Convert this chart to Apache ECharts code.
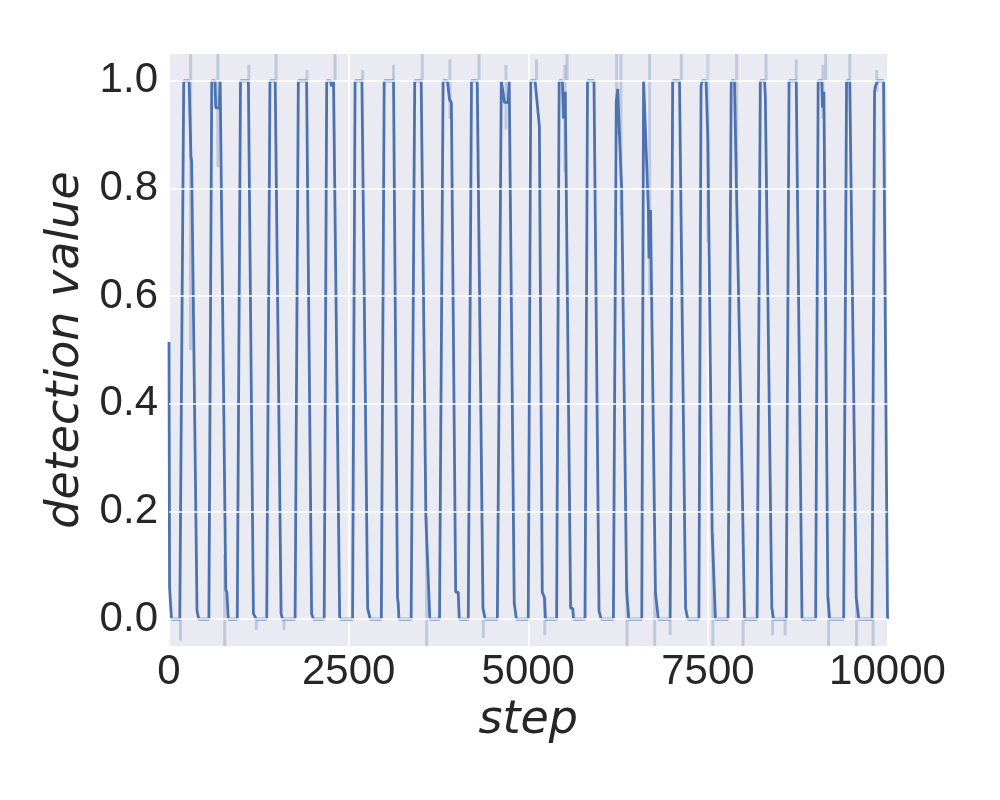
<!DOCTYPE html>
<html>
<head>
<meta charset="utf-8">
<script src="https://cdn.jsdelivr.net/npm/echarts@6/dist/echarts.min.js"></script>
<style>html,body{margin:0;padding:0;background:#fff}#c{width:1000px;height:800px}</style>
</head>
<body>
<div id="c"></div>
<script>
// x ticks and y ticks
const xTicks = [0, 2500, 5000, 7500, 10000];
const yTicks = [0, 0.2, 0.4, 0.6, 0.8, 1.0];

// mean detection value trace: steps and values
const steps = [
  0, 8, 20, 35,
  150, 205, 280, 305, 315, 390, 405, 415,
  555, 595, 640, 650, 700, 712, 722, 790, 805, 825,
  950, 995, 1105, 1175, 1200, 1215,
  1360, 1405, 1478, 1560, 1570, 1580,
  1755, 1800, 1915, 1985, 2000, 2010,
  2160, 2195, 2250, 2260, 2280, 2290, 2375, 2385,
  2555, 2590, 2685, 2765, 2790, 2800,
  2955, 2995, 3125, 3180, 3190, 3200,
  3370, 3420, 3510, 3575, 3630,
  3765, 3815, 3875, 3905, 3930, 3990, 4025, 4040,
  4165, 4210, 4290, 4370, 4390, 4400,
  4570, 4625, 4650, 4670, 4720, 4735, 4745, 4805, 4825, 4835,
  5000, 5035, 5095, 5155, 5195, 5225, 5240,
  5395, 5430, 5475, 5490, 5510, 5515, 5590, 5620, 5630,
  5790, 5825, 5915, 5985, 6005, 6015,
  6185, 6225, 6245, 6292, 6300, 6370, 6400,
  6580, 6605, 6620, 6672, 6680, 6688, 6695, 6702, 6710, 6770, 6810,
  6975, 7010, 7105, 7190, 7210, 7220,
  7375, 7405, 7420, 7475, 7500, 7560, 7605,
  7780, 7825, 7870, 7895, 7965, 8010,
  8185, 8230, 8290, 8300, 8390, 8405, 8415,
  8590, 8630, 8730, 8810,
  9000, 9035, 9085, 9095, 9110, 9115, 9170, 9185, 9195,
  9390, 9430, 9475, 9565, 9590, 9600,
  9785, 9820, 9830, 9865, 9945, 10000
];
const values = [
  0.515, 0.06, 0.03, 0,
  0, 1, 1, 0.86, 0.85, 0.015, 0.015, 0,
  0, 1, 1, 0.95, 0.95, 1, 1, 0.055, 0.05, 0,
  0, 1, 1, 0.01, 0.01, 0,
  0, 1, 1, 0.01, 0.01, 0,
  0, 1, 1, 0.01, 0.01, 0,
  0, 1, 1, 0.99, 0.99, 1, 0.005, 0,
  0, 1, 1, 0.02, 0.02, 0,
  0, 1, 1, 0.04, 0.03, 0,
  0, 1, 1, 0.19, 0,
  0, 1, 1, 0.965, 0.96, 0.05, 0.05, 0,
  0, 1, 1, 0.02, 0.02, 0,
  0, 1, 1, 0.96, 0.96, 1, 1, 0.03, 0.03, 0,
  0, 1, 1, 0.915, 0.05, 0.04, 0,
  0, 1, 1, 0.93, 0.93, 0.98, 0.02, 0.02, 0,
  0, 1, 1, 0.015, 0.015, 0,
  0, 0.96, 0.985, 0.825, 0.8, 0.05, 0,
  0, 1, 1, 0.76, 0.67, 0.76, 0.67, 0.76, 0.67, 0.05, 0,
  0, 1, 1, 0.02, 0.02, 0,
  0, 0.99, 1, 1, 0.89, 0.16, 0,
  0, 1, 1, 0.82, 0.35, 0,
  0, 1, 1, 0.97, 0.02, 0.02, 0,
  0, 1, 1, 0,
  0, 1, 1, 0.95, 0.95, 0.98, 0.04, 0.04, 0,
  0, 1, 1, 0.04, 0.04, 0,
  0, 0.98, 0.99, 1, 1, 0
];

// confidence-band spikes: step, lower, upper
const bandSteps = [160, 300, 680, 775, 1110, 1215, 1490, 1600, 1920, 2310, 2695, 3125,
  3525, 3585, 3910, 4315, 4375, 4690, 5115, 5230, 5510, 5540, 6230, 6290, 6375,
  6690, 6760, 6975, 7130, 7500, 7570, 7900, 7990, 8310, 8400, 8575, 8730,
  9100, 9140, 9180, 9475, 9570, 9800, 9850];
const bandLow = [-0.04, 0.5, 0.84, -0.05, 1.0, -0.02, 1.0, -0.02, 1.0, 1.0, 1.0, 1.0,
  1.0, -0.05, 0.93, 1.0, -0.035, 0.91, 1.0, -0.03, 0.83, 1.0, 0.9, 0.75, -0.05,
  0.6, -0.05, -0.03, 1.0, 0.7, -0.05, 0.82, -0.05, 1.0, -0.03, -0.03, 1.0,
  0.93, 1.0, -0.05, 1.0, -0.05, -0.05, 0.98];
const bandHigh = [0, 1.05, 1.05, 0.12, 1.03, 0, 1.05, 0, 1.02, 1.05, 1.02, 1.03,
  1.05, 0.19, 1.04, 1.05, 0, 1.03, 1.04, 0.04, 1.03, 1.05, 1.05, 1.05, 0.07,
  1.05, 0.05, 0, 1.05, 1.05, 0.16, 1.05, 0, 1.05, 0.02, 0, 1.04,
  1.03, 1.05, 0.04, 1.05, 0.04, 0, 1.02];

const lineData = steps.map((s, i) => [s, values[i]]);
const bandData = bandSteps.map((s, i) => [s, bandLow[i], bandHigh[i]]);

const txt = '#262626';
const chart = echarts.init(document.getElementById('c'), null, {renderer: 'canvas'});
chart.setOption({
  animation: false,
  backgroundColor: '#ffffff',
  grid: {left: 169, right: 112.5, top: 54, bottom: 154, show: true, backgroundColor: '#EAEAF2', borderWidth: 0},
  xAxis: {
    type: 'value', min: xTicks[0], max: xTicks[xTicks.length - 1], interval: 2500,
    axisLine: {show: false}, axisTick: {show: false},
    splitLine: {show: true, lineStyle: {color: '#ffffff', width: 1.6}},
    axisLabel: {color: txt, fontSize: 42, fontFamily: 'Liberation Sans, Arial, sans-serif', margin: 5, lineHeight: 42,
      formatter: v => String(v)},
    name: 'step', nameLocation: 'middle', nameGap: 50,
    nameTextStyle: {color: txt, fontSize: 46, fontStyle: 'italic', fontFamily: 'DejaVu Sans', lineHeight: 46}
  },
  yAxis: {
    type: 'value', min: -0.05, max: 1.05,
    axisLine: {show: false},
    axisTick: {show: false, customValues: yTicks},
    splitLine: {show: false},
    axisLabel: {color: txt, fontSize: 42, fontFamily: 'Liberation Sans, Arial, sans-serif', margin: 11,
      customValues: yTicks, formatter: v => v.toFixed(1)},
    name: 'detection value', nameLocation: 'middle', nameGap: 72,
    nameTextStyle: {color: txt, fontSize: 46, fontStyle: 'italic', fontFamily: 'DejaVu Sans', lineHeight: 46}
  },
  series: [
    {
      type: 'line', data: [], z: 1, silent: true,
      markLine: {
        silent: true, symbol: 'none', label: {show: false},
        lineStyle: {color: '#ffffff', width: 1.6, type: 'solid'},
        data: yTicks.map(v => ({yAxis: v}))
      }
    },
    {
      type: 'custom', z: 2, silent: true, clip: true,
      data: bandData,
      encode: {x: 0, y: [1, 2]},
      renderItem: function (params, api) {
        const p1 = api.coord([api.value(0), api.value(1)]);
        const p2 = api.coord([api.value(0), api.value(2)]);
        return {type: 'line', shape: {x1: p1[0], y1: p1[1], x2: p2[0], y2: p2[1]},
          style: {stroke: 'rgba(76,114,176,0.28)', lineWidth: 3}};
      }
    },
    {
      type: 'line', data: lineData, z: 3, symbol: 'none', showSymbol: false,
      lineStyle: {color: '#4C72B0', width: 2.8}, clip: true
    }
  ]
});
</script>
</body>
</html>
